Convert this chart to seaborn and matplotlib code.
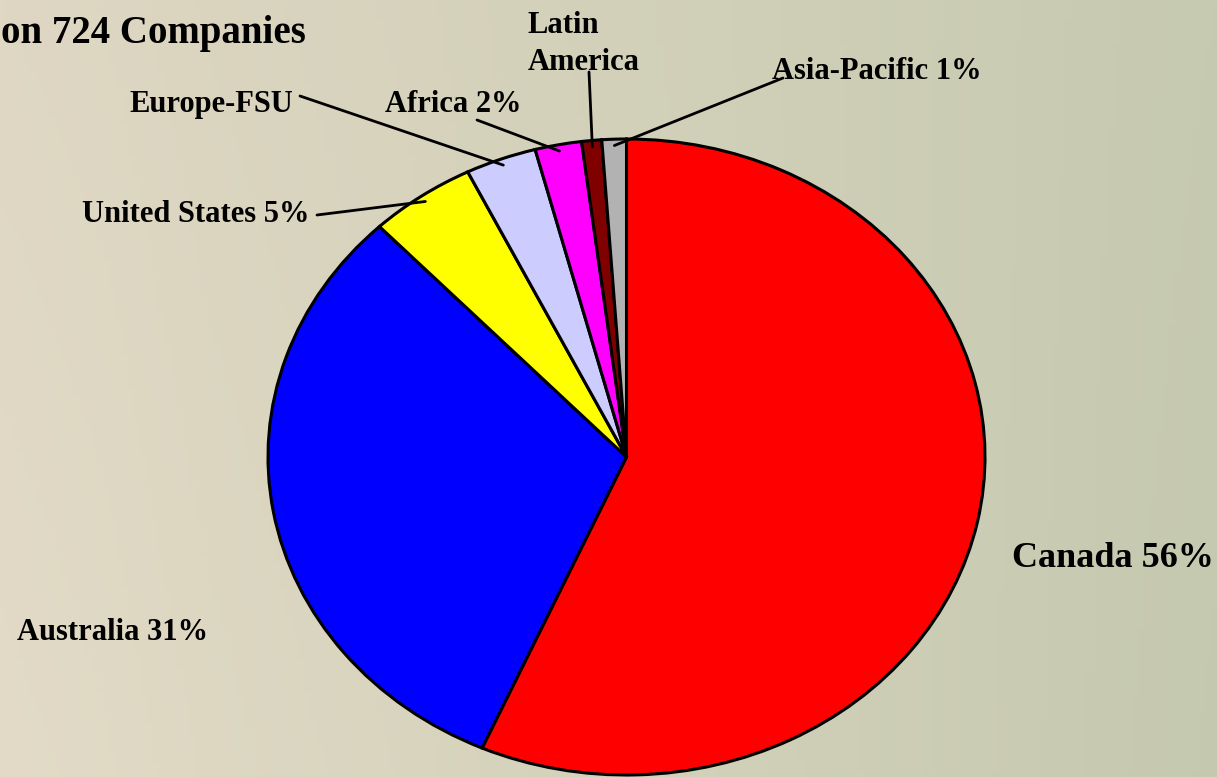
import numpy as np
import matplotlib
matplotlib.use("Agg")
import matplotlib.pyplot as plt
import seaborn as sns

sns.set_theme(style="white")
plt.rcParams['font.family'] = ['Liberation Serif', 'DejaVu Serif']
plt.rcParams['text.color'] = 'black'

# shares by region, clockwise from 12 o'clock
regions = ['Canada', 'Australia', 'United States', 'Europe-FSU', 'Africa',
           'Latin America', 'Asia-Pacific']
shares = [56.6, 31.3, 4.8, 3.2, 2.1, 0.9, 1.1]
colors = ['#ff0000', '#0000ff', '#ffff00', '#ccccff', '#ff00ff', '#800000', '#b2b2b2']
labels = ['Canada 56%', 'Australia 31%', 'United States 5%', 'Europe-FSU',
          'Africa 2%', 'Latin\nAmerica', 'Asia-Pacific 1%']
title = 'on 724 Companies'

W, H = 1217, 777
fig = plt.figure(figsize=(W / 100, H / 100), dpi=100)


def px(x, y):
    return x / W, 1 - y / H


# background: beige on the left fading into pale green on the right
bg = fig.add_axes([0, 0, 1, 1])
gx = np.linspace(0, 1, 200)[None, :, None]
gy = np.linspace(0, 1, 120)[:, None, None]
left = np.array([223, 215, 195]) / 255
right = np.array([198, 202, 176]) / 255
grad = left * (1 - gx) + right * gx
grad = grad + 0.015 * gy - 0.02 * gx * gy
bg.imshow(np.clip(grad, 0, 1), aspect='auto', extent=[0, 1, 0, 1])
bg.set_axis_off()

# pie axes, slightly flattened like the original
x0, x1, y0, y1 = 268, 985, 139, 775
ax = fig.add_axes([x0 / W, 1 - y1 / H, (x1 - x0) / W, (y1 - y0) / H])
wedges, _ = ax.pie(shares, colors=colors, startangle=90, counterclock=False,
                   wedgeprops=dict(edgecolor='black', linewidth=2.2))
ax.set_aspect('auto')
ax.set_xlim(-1, 1)
ax.set_ylim(-1, 1)
ax.set_axis_off()

# label positions (pixel, left edge / last-line baseline) and leader line starts
label_pos = {
    'Canada': (1012, 567, 26),
    'Australia': (17, 640, 22),
    'United States': (82, 222, 22),
    'Europe-FSU': (129, 112, 22),
    'Africa': (385, 112, 22),
    'Latin America': (528, 70, 22),
    'Asia-Pacific': (772, 79, 22),
}
leaders = {
    'United States': (317, 215),
    'Europe-FSU': (300, 96),
    'Africa': (477, 120),
    'Latin America': (589, 72),
    'Asia-Pacific': (783, 78),
}

for reg, lab, w in zip(regions, labels, wedges):
    x, y, fs = label_pos[reg]
    fig.text(*px(x, y), lab, fontsize=fs, fontweight='bold', ha='left',
             va='baseline', linespacing=1.38, color='black')
    if reg in leaders:
        th = np.deg2rad((w.theta1 + w.theta2) / 2)
        ex, ey = 0.98 * np.cos(th), 0.98 * np.sin(th)
        # leader end in figure coordinates
        fx, fy = fig.transFigure.inverted().transform(ax.transData.transform((ex, ey)))
        sx, sy = px(*leaders[reg])
        fig.add_artist(plt.Line2D([sx, fx], [sy, fy], color='black', lw=2,
                                  transform=fig.transFigure))

fig.text(*px(1, 43), title, fontsize=28, fontweight='bold', ha='left',
         va='baseline', color='black')

fig.savefig('out.png', dpi=100)
